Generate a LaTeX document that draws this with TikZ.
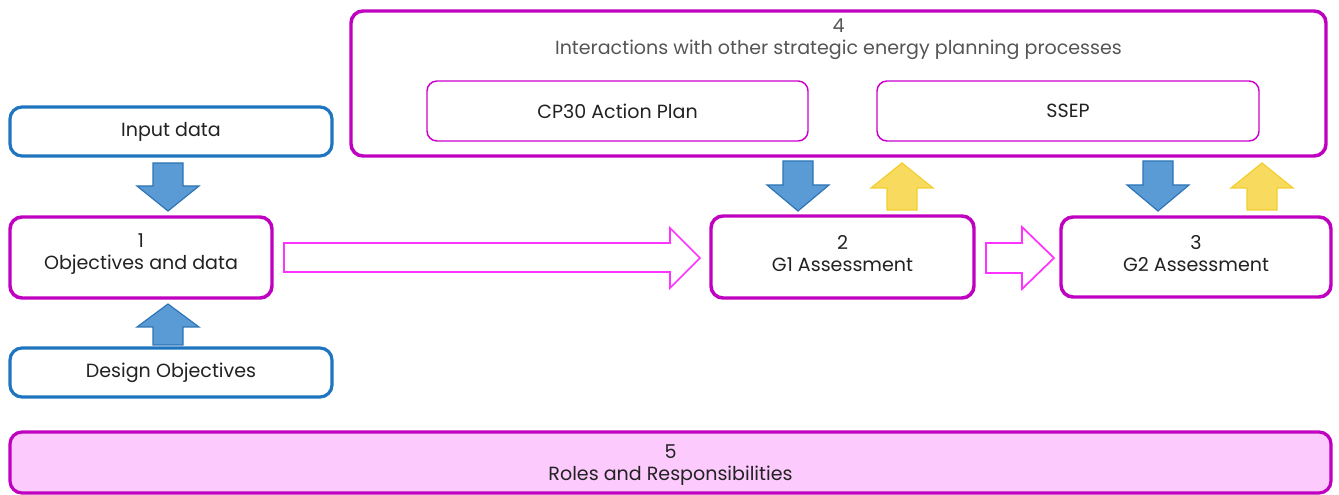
\documentclass[tikz,border=0pt]{standalone}
\usepackage{fontspec}
\setmainfont{Poppins}
\usetikzlibrary{calc}
\definecolor{mag}{HTML}{C000C0}
\definecolor{magthin}{HTML}{CC00CC}
\definecolor{brightmag}{HTML}{FF33FF}
\definecolor{bluebox}{HTML}{1F75C0}
\definecolor{bluefill}{HTML}{5B9BD5}
\definecolor{blueline}{HTML}{2E75B6}
\definecolor{yelfill}{HTML}{F8DA5E}
\definecolor{yelline}{HTML}{F2CF2E}
\definecolor{pinkfill}{HTML}{FCCAFC}
\definecolor{txt}{HTML}{222222}
\definecolor{graytxt}{HTML}{555555}
\newcommand{\pxbox}[6]{% name, style, x1, y1, x2, y2
  \node[#2, minimum width={(#5-#3)*0.75pt}, minimum height={(#6-#4)*0.75pt}] (#1) at ({(#3+#5)/2},{(#4+#6)/2}) {};}
\newcommand{\dnblk}[5]{% style, cx, ytop, yhead, ytip
  \draw[#1] (#2-15,#3) -- (#2+15,#3) -- (#2+15,#4) -- (#2+31,#4) -- (#2,#5) -- (#2-31,#4) -- (#2-15,#4) -- cycle;}
\newcommand{\upblk}[5]{% style, cx, ytip, yhead, ybottom
  \draw[#1] (#2,#3) -- (#2+31,#4) -- (#2+15,#4) -- (#2+15,#5) -- (#2-15,#5) -- (#2-15,#4) -- (#2-31,#4) -- cycle;}
\begin{document}
\begin{tikzpicture}[x=0.75pt,y=-0.75pt,
  every node/.style={font=\fontsize{14.3pt}{16.5pt}\selectfont, text=txt, align=center},
  two/.style={yshift=2.5pt},
  bluebx/.style={draw=bluebox, line width=2.4pt, rounded corners=9pt, fill=white},
  magbx/.style={draw=mag, line width=2.6pt, rounded corners=9pt, fill=white},
  thinbx/.style={draw=magthin, line width=1.1pt, rounded corners=7.5pt, fill=white},
  pinkbx/.style={draw=mag, line width=2.4pt, rounded corners=9pt, fill=pinkfill},
  bluearr/.style={draw=blueline, line width=0.9pt, fill=bluefill},
  yelarr/.style={draw=yelline, line width=0.9pt, fill=yelfill},
  hollow/.style={draw=brightmag, line width=1.3pt, fill=white},
]
\useasboundingbox (0,0) rectangle (1339,495);
% boxes
\pxbox{input}{bluebx}{10}{107}{332}{156}
\node at (input) {Input data};
\pxbox{b1}{magbx}{10}{217}{272}{298}
\node[two] at (b1) {1\\Objectives and data};
\pxbox{design}{bluebx}{10}{348}{332}{397}
\node at (design) {Design Objectives};
\pxbox{b4}{magbx}{351}{11}{1326}{156}
\node[text=graytxt, anchor=north] (b4t) at ($(b4.north)+(0,5)$) {4\\Interactions with other strategic energy planning processes};
\pxbox{cp}{thinbx}{427}{81}{808}{141}
\node at (cp) {CP30 Action Plan};
\pxbox{ssep}{thinbx}{877}{81}{1259}{141}
\node at (ssep) {SSEP};
\pxbox{b2}{magbx}{711}{216}{974}{298}
\node[two] at (b2) {2\\G1 Assessment};
\pxbox{b3}{magbx}{1061}{217}{1331}{297}
\node[two] at (b3) {3\\G2 Assessment};
\pxbox{b5}{pinkbx}{10}{432}{1331}{493}
\node[yshift=-2pt] at (b5) {5\\Roles and Responsibilities};
% block arrows
\dnblk{bluearr}{168}{163}{186}{211}
\upblk{bluearr}{168}{304}{327}{345}
\dnblk{bluearr}{798}{161}{185}{211}
\upblk{yelarr}{902}{163}{188}{210}
\dnblk{bluearr}{1158}{161}{185}{211}
\upblk{yelarr}{1262}{163}{188}{210}
% hollow arrows
\draw[hollow] (284,243) -- (670,243) -- (670,228) -- (700,258) -- (670,288) -- (670,272) -- (284,272) -- cycle;
\draw[hollow] (986,243) -- (1022,243) -- (1022,227) -- (1054,258) -- (1022,289) -- (1022,273) -- (986,273) -- cycle;
\end{tikzpicture}
\end{document}
